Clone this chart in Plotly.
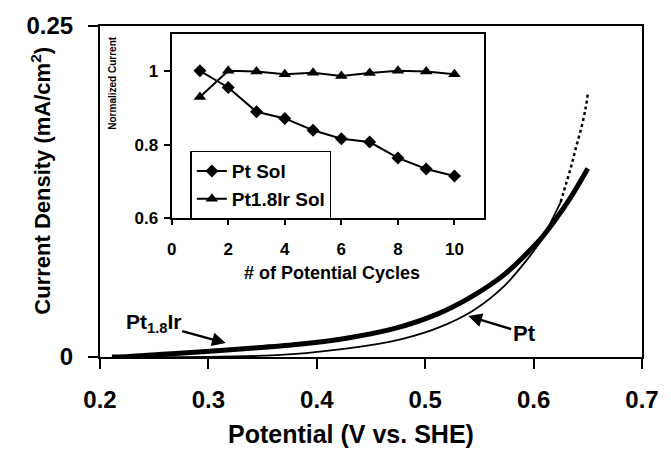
import plotly.graph_objects as go

# ---- Main chart data (Potential in V vs. SHE, current density in mA/cm2) ----
pt18ir_v = [0.211, 0.227, 0.254, 0.291, 0.336, 0.381, 0.426, 0.472, 0.511, 0.544, 0.574, 0.605, 0.619, 0.635, 0.650]
pt18ir_i = [0.0, 0.0004, 0.0019, 0.0038, 0.0064, 0.0094, 0.0140, 0.0216, 0.0324, 0.0462, 0.0630, 0.0878, 0.1025, 0.1215, 0.1423]
pt_v = [0.227, 0.300, 0.345, 0.390, 0.451, 0.481, 0.511, 0.544, 0.574, 0.605, 0.612, 0.625]
pt_i = [0.0, 0.0, 0.0008, 0.0030, 0.0091, 0.0141, 0.0218, 0.0350, 0.0545, 0.0855, 0.0956, 0.1170]
pt_ext_v = [0.625, 0.630, 0.635, 0.639, 0.644, 0.648, 0.650]
pt_ext_i = [0.1170, 0.131, 0.145, 0.158, 0.173, 0.188, 0.199]

x_ticks = [0.2, 0.3, 0.4, 0.5, 0.6, 0.7]
x_tick_text = ["0.2", "0.3", "0.4", "0.5", "0.6", "0.7"]
y_ticks = [0, 0.25]
y_tick_text = ["0", "0.25"]

# ---- Inset data ----
cycles = [1, 2, 3, 4, 5, 6, 7, 8, 9, 10]
pt_sol = [1.0, 0.955, 0.889, 0.871, 0.839, 0.816, 0.807, 0.764, 0.734, 0.715]
ptir_sol = [0.929, 1.0, 0.998, 0.991, 0.995, 0.986, 0.994, 1.0, 0.998, 0.991]
inset_x_ticks = [0, 2, 4, 6, 8, 10]
inset_y_ticks = [0.6, 0.8, 1.0]
inset_y_text = ["0.6", "0.8", "1"]

FONT = "Arial, Liberation Sans, sans-serif"
BLACK = "#000000"

fig = go.Figure()

# main curves
fig.add_trace(go.Scatter(x=pt18ir_v, y=pt18ir_i, mode="lines", line=dict(color=BLACK, width=5, shape="spline", smoothing=0.8),
                         showlegend=False, xaxis="x", yaxis="y"))
fig.add_trace(go.Scatter(x=pt_v, y=pt_i, mode="lines", line=dict(color=BLACK, width=1.8, shape="spline", smoothing=0.8),
                         showlegend=False, xaxis="x", yaxis="y"))
fig.add_trace(go.Scatter(x=pt_ext_v, y=pt_ext_i, mode="lines", line=dict(color=BLACK, width=2.5, dash="dot", shape="spline"),
                         showlegend=False, xaxis="x", yaxis="y"))

# inset
fig.add_trace(go.Scatter(x=cycles, y=pt_sol, mode="lines+markers", name="Pt Sol",
                         line=dict(color=BLACK, width=2), marker=dict(symbol="diamond", size=10, color=BLACK),
                         xaxis="x2", yaxis="y2"))
fig.add_trace(go.Scatter(x=cycles, y=ptir_sol, mode="lines+markers", name="Pt1.8Ir Sol",
                         line=dict(color=BLACK, width=2), marker=dict(symbol="triangle-up", size=11, color=BLACK),
                         xaxis="x2", yaxis="y2"))

axis_common = dict(showgrid=False, zeroline=False, showline=True, linecolor=BLACK, linewidth=2,
                   ticks="outside", tickcolor=BLACK, tickwidth=2)

fig.update_layout(
    width=671, height=450,
    margin=dict(l=100, r=19, t=25, b=93),
    paper_bgcolor="white", plot_bgcolor="white",
    font=dict(family=FONT, color=BLACK),
    xaxis=dict(range=[0.2, 0.7], tickvals=x_ticks, ticktext=x_tick_text, ticklen=10, mirror=True,
               tickfont=dict(size=24, weight="bold"), ticklabelstandoff=10, **axis_common),
    yaxis=dict(range=[0, 0.25], tickvals=y_ticks, ticktext=y_tick_text, ticklen=10, mirror=True,
               tickfont=dict(size=24, weight="bold"), ticklabelstandoff=10, **axis_common),
    xaxis2=dict(domain=[0.1322, 0.7083], anchor="y2", range=[0, 11.04], tickvals=inset_x_ticks, ticklen=5, mirror=True,
                tickfont=dict(size=17, weight="bold"), ticklabelstandoff=9, **axis_common),
    yaxis2=dict(domain=[0.4187, 0.9759], anchor="x2", range=[0.6, 1.1], tickvals=inset_y_ticks, ticktext=inset_y_text,
                ticklen=6, mirror=True, tickfont=dict(size=17, weight="bold"), ticklabelstandoff=2, **axis_common),
    showlegend=True,
    legend=dict(x=0.1667, y=0.6235, xanchor="left", yanchor="top", bgcolor="white", bordercolor=BLACK, borderwidth=1.5,
                font=dict(size=19, weight="bold"), itemwidth=30, tracegroupgap=0),
)

ann = []
# axis titles
ann.append(dict(text="Current Density (mA/cm<sup>2</sup>)", xref="paper", yref="paper", x=-0.1105, y=0.533,
                textangle=-90, showarrow=False, xanchor="center", yanchor="middle", font=dict(size=22, weight="bold")))
ann.append(dict(text="Potential (V vs. SHE)", xref="paper", yref="paper", x=0.464, y=-0.232,
                showarrow=False, xanchor="center", yanchor="middle", font=dict(size=25, weight="bold")))
ann.append(dict(text="# of Potential Cycles", xref="paper", yref="paper", x=0.4275, y=0.253,
                showarrow=False, xanchor="center", yanchor="middle", font=dict(size=18, weight="bold")))
ann.append(dict(text="Normalized Current", xref="paper", yref="paper", x=0.0236, y=0.828, textangle=-90,
                showarrow=False, xanchor="center", yanchor="middle", font=dict(size=10, weight="bold")))
# curve labels with arrows (text centred at ax, ay; arrow head at x, y)
ann.append(dict(text="Pt<sub>1.8</sub>Ir", xref="x", yref="y", x=0.316, y=0.0105, axref="x", ayref="y",
                ax=0.249, ay=0.0256, showarrow=True, arrowhead=2, arrowsize=1.1, arrowwidth=2.5, arrowcolor=BLACK,
                font=dict(size=21, weight="bold")))
ann.append(dict(text="Pt", xref="x", yref="y", x=0.5397, y=0.0309, axref="x", ayref="y",
                ax=0.5913, ay=0.0181, showarrow=True, arrowhead=2, arrowsize=1.1, arrowwidth=2.5, arrowcolor=BLACK,
                font=dict(size=22, weight="bold")))
fig.update_layout(annotations=ann)

fig.write_html("out.html")
